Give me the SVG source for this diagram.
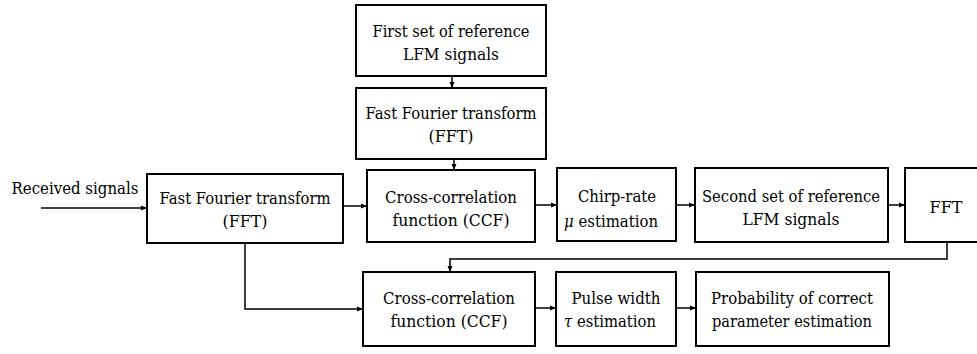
<svg xmlns="http://www.w3.org/2000/svg" width="977" height="354" viewBox="0 0 977 354">
<style>
.box{fill:#fff;stroke:#000;stroke-width:2}
.t{font-family:"DejaVu Serif","Liberation Serif","Times New Roman",serif;font-size:17px;fill:#000;text-anchor:middle}
.c{fill:none;stroke:#000;stroke-width:1.5}
</style>
<defs>
<marker id="a" markerWidth="6" markerHeight="6" refX="6" refY="3" orient="auto" markerUnits="userSpaceOnUse">
<path d="M0,0.5 L6,3 L0,5.5 Z" fill="#000"/>
</marker>
</defs>
<rect width="977" height="354" fill="#fff"/>
<g id="connectors">
<path class="c" d="M452,76 V88" marker-end="url(#a)"/>
<path class="c" d="M454,159 V170" marker-end="url(#a)"/>
<path class="c" d="M41,208 H147" marker-end="url(#a)"/>
<path class="c" d="M343,206 H367" marker-end="url(#a)"/>
<path class="c" d="M535,205 H557" marker-end="url(#a)"/>
<path class="c" d="M676,205 H695" marker-end="url(#a)"/>
<path class="c" d="M888,205 H905" marker-end="url(#a)"/>
<path class="c" d="M947,242 V259 H450 V272" marker-end="url(#a)"/>
<path class="c" d="M245,243 V309 H363" marker-end="url(#a)"/>
<path class="c" d="M535,308 H556" marker-end="url(#a)"/>
<path class="c" d="M676,308 H696" marker-end="url(#a)"/>
</g>
<g id="received"><text class="t" x="75" y="194" textLength="127" lengthAdjust="spacingAndGlyphs">Received signals</text></g>
<g id="ref1"><rect class="box" x="356" y="5" width="190" height="71"/><text class="t" x="451" y="37" textLength="157" lengthAdjust="spacingAndGlyphs">First set of reference</text><text class="t" x="451" y="60" textLength="96" lengthAdjust="spacingAndGlyphs">LFM signals</text></g>
<g id="fft1"><rect class="box" x="356" y="88" width="190" height="71"/><text class="t" x="451" y="119" textLength="171" lengthAdjust="spacingAndGlyphs">Fast Fourier transform</text><text class="t" x="451" y="142" textLength="45" lengthAdjust="spacingAndGlyphs">(FFT)</text></g>
<g id="fft0"><rect class="box" x="147" y="174" width="196" height="69"/><text class="t" x="245" y="204" textLength="171" lengthAdjust="spacingAndGlyphs">Fast Fourier transform</text><text class="t" x="245" y="227" textLength="45" lengthAdjust="spacingAndGlyphs">(FFT)</text></g>
<g id="ccf1"><rect class="box" x="367" y="170" width="168" height="72"/><text class="t" x="451" y="203" textLength="132" lengthAdjust="spacingAndGlyphs">Cross-correlation</text><text class="t" x="451" y="226" textLength="117" lengthAdjust="spacingAndGlyphs">function (CCF)</text></g>
<g id="chirp"><rect class="box" x="557" y="168" width="119" height="73"/><text class="t" x="617" y="202" textLength="78" lengthAdjust="spacingAndGlyphs">Chirp-rate</text><text class="t" x="611" y="227" textLength="94" lengthAdjust="spacingAndGlyphs"><tspan font-style="italic">μ</tspan> estimation</text></g>
<g id="ref2"><rect class="box" x="695" y="168" width="193" height="74"/><text class="t" x="791" y="202" textLength="178" lengthAdjust="spacingAndGlyphs">Second set of reference</text><text class="t" x="791" y="225" textLength="97" lengthAdjust="spacingAndGlyphs">LFM signals</text></g>
<g id="fft2"><rect class="box" x="905" y="168" width="82" height="74"/><text class="t" x="946" y="213" textLength="33" lengthAdjust="spacingAndGlyphs">FFT</text></g>
<g id="ccf2"><rect class="box" x="363" y="272" width="172" height="74"/><text class="t" x="449" y="304" textLength="132" lengthAdjust="spacingAndGlyphs">Cross-correlation</text><text class="t" x="449" y="327" textLength="117" lengthAdjust="spacingAndGlyphs">function (CCF)</text></g>
<g id="pulse"><rect class="box" x="556" y="272" width="120" height="74"/><text class="t" x="616" y="304" textLength="89" lengthAdjust="spacingAndGlyphs">Pulse width</text><text class="t" x="610" y="327" textLength="92" lengthAdjust="spacingAndGlyphs"><tspan font-style="italic">τ</tspan> estimation</text></g>
<g id="prob"><rect class="box" x="696" y="272" width="193" height="74"/><text class="t" x="792" y="304" textLength="162" lengthAdjust="spacingAndGlyphs">Probability of correct</text><text class="t" x="792" y="327" textLength="160" lengthAdjust="spacingAndGlyphs">parameter estimation</text></g>
</svg>
